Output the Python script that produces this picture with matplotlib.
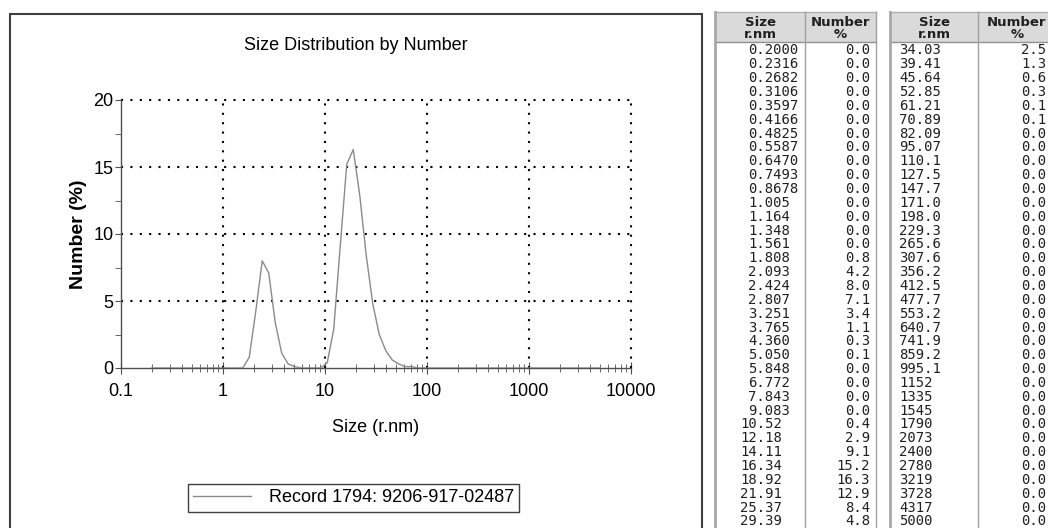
import numpy as np
from matplotlib import pyplot as plt
from matplotlib.patches import Rectangle
from matplotlib.lines import Line2D

plt.rcParams['font.family'] = ['Liberation Sans', 'DejaVu Sans']
plt.rcParams['savefig.dpi'] = 100

# size bins (r.nm) and number distribution (%), as listed in the two table panels
size_left = [0.2000, 0.2316, 0.2682, 0.3106, 0.3597, 0.4166, 0.4825, 0.5587, 0.6470,
             0.7493, 0.8678, 1.005, 1.164, 1.348, 1.561, 1.808, 2.093, 2.424, 2.807,
             3.251, 3.765, 4.360, 5.050, 5.848, 6.772, 7.843, 9.083, 10.52, 12.18,
             14.11, 16.34, 18.92, 21.91, 25.37, 29.39]
number_left = [0.0, 0.0, 0.0, 0.0, 0.0, 0.0, 0.0, 0.0, 0.0, 0.0, 0.0, 0.0, 0.0, 0.0,
               0.0, 0.8, 4.2, 8.0, 7.1, 3.4, 1.1, 0.3, 0.1, 0.0, 0.0, 0.0, 0.0, 0.4,
               2.9, 9.1, 15.2, 16.3, 12.9, 8.4, 4.8]
size_right = [34.03, 39.41, 45.64, 52.85, 61.21, 70.89, 82.09, 95.07, 110.1, 127.5,
              147.7, 171.0, 198.0, 229.3, 265.6, 307.6, 356.2, 412.5, 477.7, 553.2,
              640.7, 741.9, 859.2, 995.1, 1152, 1335, 1545, 1790, 2073, 2400, 2780,
              3219, 3728, 4317, 5000]
number_right = [2.5, 1.3, 0.6, 0.3, 0.1, 0.1, 0.0, 0.0, 0.0, 0.0, 0.0, 0.0, 0.0, 0.0,
                0.0, 0.0, 0.0, 0.0, 0.0, 0.0, 0.0, 0.0, 0.0, 0.0, 0.0, 0.0, 0.0, 0.0,
                0.0, 0.0, 0.0, 0.0, 0.0, 0.0, 0.0]

x_ticks = [0.1, 1, 10, 100, 1000, 10000]
x_tick_labels = ['0.1', '1', '10', '100', '1000', '10000']
y_ticks = [0, 5, 10, 15, 20]
record_label = 'Record 1794: 9206-917-02487'

W, H = 1048, 528


def fx(x):
    return x / W


def fy(y):
    return 1 - y / H


def fmt_size(v):
    s = np.format_float_positional(v, precision=4, unique=False, fractional=False, trim='k')
    return s.rstrip('.')


fig = plt.figure(figsize=(W / 100, H / 100), dpi=100)

# outer frame around the chart
fig.patches.append(Rectangle((fx(10), fy(540)), fx(692), 526 / H, transform=fig.transFigure,
                             fill=False, edgecolor='#404040', lw=1.5))

ax = fig.add_axes([fx(121), fy(368), fx(510), 268 / H])
sizes = np.array(size_left + size_right)
numbers = np.array(number_left + number_right)
ax.plot(sizes, numbers, color='#8a8a8a', lw=1.0, zorder=3)

ax.set_xscale('log')
ax.set_xlim(0.1, 10000)
ax.set_ylim(0, 20)
ax.set_xticks(x_ticks, x_tick_labels)
ax.xaxis.set_minor_locator(plt.matplotlib.ticker.LogLocator(base=10, subs=np.arange(2, 10)))
ax.xaxis.set_minor_formatter(plt.NullFormatter())
ax.set_yticks(y_ticks)
ax.set_yticks([2.5, 7.5, 12.5, 17.5], minor=True)

for sp in ['top', 'right']:
    ax.spines[sp].set_visible(False)
for sp in ['left', 'bottom']:
    ax.spines[sp].set_color('#505050')
    ax.spines[sp].set_linewidth(1.0)

ax.tick_params(axis='x', which='major', direction='inout', length=8, color='#505050',
               labelsize=13, pad=7)
ax.tick_params(axis='x', which='minor', direction='inout', length=6, color='#505050')
ax.tick_params(axis='y', which='both', direction='out', length=4.5, color='#505050',
               labelsize=13, pad=1)

dots = (0, (1, 3.5))
for yv in y_ticks[1:]:
    ax.axhline(yv, color='black', lw=1.5, ls=dots, clip_on=False, zorder=2)
for xv in x_ticks[1:]:
    ax.axvline(xv, color='black', lw=1.5, ls=dots, clip_on=False, zorder=2)

ax.set_xlabel('Size (r.nm)', fontsize=13)
ax.xaxis.set_label_coords(0.5, -0.19)
ax.set_ylabel('Number (%)', fontsize=14, fontweight='bold')
ax.yaxis.set_label_coords(-0.066, 0.5)

fig.text(fx(356), fy(45), 'Size Distribution by Number', ha='center', va='center', fontsize=13)

handle = Line2D([], [], color='#8a8a8a', lw=1.0)
fig.legend([handle], [record_label], loc='center', bbox_to_anchor=(fx(353.5), fy(498)),
           fontsize=13, frameon=True, fancybox=False, edgecolor='#404040', framealpha=1,
           handlelength=3.2, handletextpad=1.0, borderpad=0.3)

# data table, two panels
row_y0, row_dy = 50.5, 13.85
adv = 0.602 * 10 * 100 / 72
panels = [
    (size_left, number_left, 715, 805, 876),
    (size_right, number_right, 890, 978, 1070),
]
for k, (sz, nb, x0, xm, x1) in enumerate(panels):
    fig.patches.append(Rectangle((fx(x0), fy(42)), fx(x1 - x0), 30 / H, transform=fig.transFigure,
                                 facecolor='#dadada', edgecolor='none'))
    fig.lines.append(Line2D([fx(x0), fx(x1)], [fy(12), fy(12)], transform=fig.transFigure,
                            color='#b0b0b0', lw=1))
    fig.lines.append(Line2D([fx(x0), fx(x1)], [fy(42), fy(42)], transform=fig.transFigure,
                            color='#909090', lw=1))
    fig.lines.append(Line2D([fx(x0), fx(x0)], [fy(12), fy(540)], transform=fig.transFigure,
                            color='#a8a8a8', lw=2))
    fig.lines.append(Line2D([fx(xm), fx(xm)], [fy(12), fy(540)], transform=fig.transFigure,
                            color='#a0a0a0', lw=1))
    fig.lines.append(Line2D([fx(x1), fx(x1)], [fy(12), fy(540)], transform=fig.transFigure,
                            color='#a0a0a0', lw=1))
    for txt, yy in [('Size', 22), ('r.nm', 34)]:
        fig.text(fx((x0 + xm) / 2), fy(yy), txt, ha='center', va='center', fontsize=9.5,
                 fontweight='bold', family='DejaVu Sans', color='#202020')
    ncx = (xm + 876) / 2 if k == 0 else xm + 39
    for txt, yy in [('Number', 22), ('%', 34)]:
        fig.text(fx(ncx), fy(yy), txt, ha='center', va='center', fontsize=9.5,
                 fontweight='bold', family='DejaVu Sans', color='#202020')
    for i, (s, n) in enumerate(zip(sz, nb)):
        yy = row_y0 + i * row_dy
        st = fmt_size(s)
        if k == 0:
            xl = 761 - (st.index('.') + 0.5) * adv
        else:
            xl = 899
        fig.text(fx(xl), fy(yy), st, ha='left', va='center', fontsize=10,
                 family='DejaVu Sans Mono', color='#202020')
        fig.text(fx(870 if k == 0 else 1046), fy(yy), f'{n:.1f}', ha='right', va='center',
                 fontsize=10, family='DejaVu Sans Mono', color='#202020')

fig.savefig('out.png', dpi=100)
